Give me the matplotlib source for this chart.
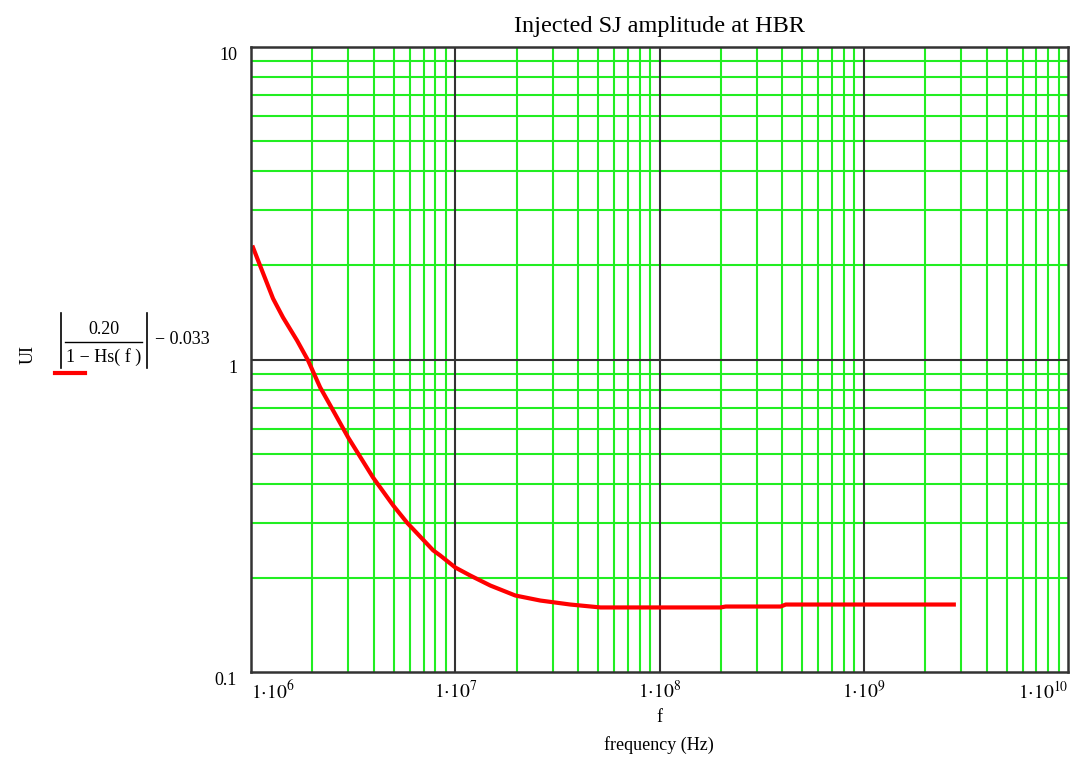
import numpy as np
import matplotlib.pyplot as plt
from matplotlib.lines import Line2D
from matplotlib.transforms import ScaledTranslation

plt.rcParams['font.family'] = ['Liberation Serif', 'DejaVu Serif']
plt.rcParams['mathtext.fontset'] = 'stix'

# values
freq_hz = [1.023e6, 1.107e6, 1.282e6, 1.435e6, 1.681e6, 1.903e6, 2.179e6,
           2.523e6, 2.99e6, 3.96e6, 4.97e6, 5.82e6, 7.80e6, 8.44e6, 1.0e7,
           1.184e7, 1.485e7, 1.968e7, 2.61e7, 3.66e7, 5.14e7, 1.99e8,
           2.11e8, 3.92e8, 4.15e8, 2.76e9]
ui_amp = [2.283, 2.0, 1.567, 1.363, 1.150, 0.993, 0.815,
          0.687, 0.563, 0.419, 0.341, 0.300, 0.245, 0.236, 0.216,
          0.2036, 0.1891, 0.1757, 0.1693, 0.1644, 0.1609, 0.1609,
          0.162, 0.162, 0.1644, 0.1644]

x_ticks = [1e6, 1e7, 1e8, 1e9, 1e10]
x_labels = [r'$1{\cdot}10^{6}$', r'$1{\cdot}10^{7}$', r'$1{\cdot}10^{8}$',
            r'$1{\cdot}10^{9}$', r'$1{\cdot}10^{10}$']
y_ticks = [0.1, 1, 10]
y_labels = ['0.1', '1', '10']

W, H = 1080, 762
fig = plt.figure(figsize=(W / 100, H / 100), dpi=100)
ax = fig.add_axes([251 / W, 1 - 672 / H, (1068 - 251) / W, (672 - 47) / H])

ax.set_xscale('log')
ax.set_yscale('log')
ax.set_xlim(1e6, 1e10)
ax.set_ylim(0.1, 10)

green = '#22ee22'
dark = '#333333'
# minor grid (2..9 in each decade)
for d in range(6, 10):
    for m in range(2, 10):
        ax.axvline(m * 10.0 ** d, color=green, lw=1.5, zorder=1)
for d in (-1, 0):
    for m in range(2, 10):
        ax.axhline(m * 10.0 ** d, color=green, lw=1.5, zorder=1)
# decade lines
for v in x_ticks[1:-1]:
    ax.axvline(v, color=dark, lw=1.5, zorder=2)
ax.axhline(1, color=dark, lw=1.5, zorder=2)

ax.plot(freq_hz, ui_amp, color='red', lw=3, zorder=3, solid_joinstyle='round')

for s in ax.spines.values():
    s.set_color(dark)
    s.set_linewidth(1.8)
    s.set_zorder(4)

ax.minorticks_off()
ax.set_xticks(x_ticks)
ax.set_xticklabels(x_labels, fontsize=14)
ax.set_yticks(y_ticks)
ax.set_yticklabels(y_labels, fontsize=13)
ax.tick_params(length=0, pad=6)
ax.tick_params(axis='y', pad=10)

xl = ax.get_xticklabels()
xl[0].set_ha('left')
xl[-1].set_ha('right')
for lab in ax.get_yticklabels():
    lab.set_transform(lab.get_transform() + ScaledTranslation(0, -5 / 72, fig.dpi_scale_trans))

ax.set_title('Injected SJ amplitude at HBR', fontsize=17.5, pad=11)

fig.text(659 / W, 1 - 718 / H, 'f', fontsize=13, ha='center', va='center')
fig.text(659 / W, 1 - 745 / H, 'frequency (Hz)', fontsize=13, ha='center', va='center')

# y label: "UI" plus the trace expression |0.20 / (1 - Hs(f))| - 0.033
fig.text(28 / W, 1 - 355 / H, 'UI', fontsize=13, rotation=90, ha='center', va='center')
fig.text(104 / W, 1 - 329 / H, '0.20', fontsize=13, ha='center', va='center')
fig.text(104 / W, 1 - 357 / H, '1 \u2212 Hs( f )', fontsize=13, ha='center', va='center')
fig.add_artist(Line2D([65 / W, 142 / W], [1 - 342 / H] * 2,
                      transform=fig.transFigure, color='black', lw=1))
for bx in (61, 147):
    fig.add_artist(Line2D([bx / W] * 2, [1 - 313 / H, 1 - 368 / H],
                          transform=fig.transFigure, color='black', lw=1.2))
fig.text(155 / W, 1 - 340 / H, '\u2212 0.033', fontsize=13, ha='left', va='center')
fig.add_artist(Line2D([55 / W, 85 / W], [1 - 373 / H, 1 - 373 / H],
                      transform=fig.transFigure, color='red', lw=3))

fig.savefig('out.png', dpi=100)
